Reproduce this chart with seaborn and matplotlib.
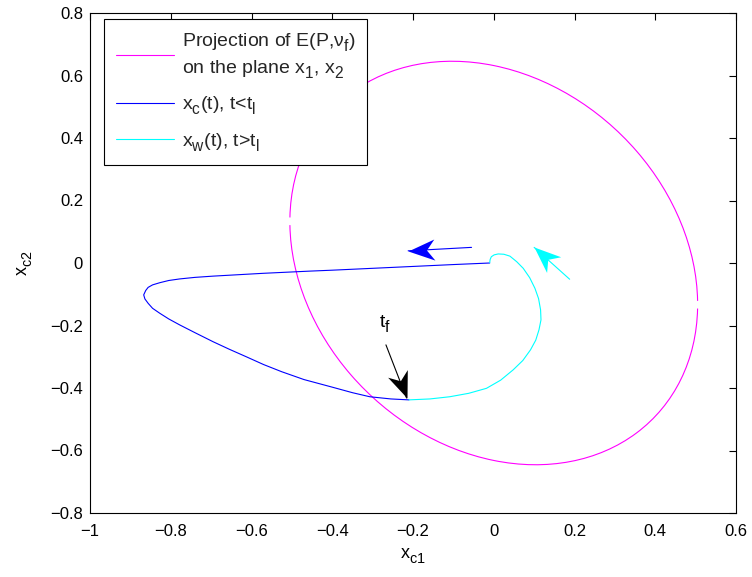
import numpy as np
import pandas as pd
import matplotlib
matplotlib.use("Agg")
import matplotlib.pyplot as plt
import seaborn as sns
from matplotlib.patches import Arc
from matplotlib.path import Path
from matplotlib.markers import MarkerStyle
from matplotlib.transforms import Affine2D

try:  # MATLAB-like subscripts: larger and lower than mathtext defaults
    import matplotlib._mathtext as _mt
    _mt.SHRINK_FACTOR = 0.8
    _mt.FontConstantsBase.sub1 = 0.5
    _mt.FontConstantsBase.sub2 = 0.65
except Exception:
    pass

# ---------------- data ----------------
# trajectory x_c(t), t < t_l  (blue)
blue_x = [-0.010, -0.100, -0.200, -0.300, -0.400, -0.456, -0.571, -0.695, -0.740,
          -0.778, -0.805, -0.827, -0.845, -0.856, -0.862, -0.867, -0.864, -0.856,
          -0.845, -0.827, -0.805, -0.778, -0.740, -0.695, -0.655, -0.613, -0.570,
          -0.525, -0.470, -0.398, -0.350, -0.307, -0.255, -0.210]
blue_y = [0.000, -0.005, -0.011, -0.017, -0.023, -0.026, -0.033, -0.042, -0.046,
          -0.051, -0.056, -0.063, -0.070, -0.078, -0.088, -0.102, -0.115, -0.129,
          -0.145, -0.161, -0.179, -0.198, -0.223, -0.252, -0.276, -0.300, -0.325,
          -0.348, -0.373, -0.398, -0.415, -0.428, -0.435, -0.438]
# trajectory x_w(t), t > t_l  (cyan)
cyan_x = [-0.210, -0.158, -0.109, -0.062, -0.018, 0.017, 0.048, 0.072, 0.091, 0.104,
          0.112, 0.117, 0.116, 0.111, 0.102, 0.089, 0.073, 0.057, 0.040, 0.025,
          0.011, 0.001, -0.006, -0.009, -0.010]
cyan_y = [-0.438, -0.435, -0.428, -0.417, -0.401, -0.375, -0.342, -0.312, -0.278, -0.247,
          -0.214, -0.182, -0.150, -0.114, -0.081, -0.047, -0.017, 0.004, 0.022, 0.028,
          0.029, 0.026, 0.020, 0.011, 0.001]

# ellipse E(P, nu_f) projection: center, full axes, rotation (deg), drawn arcs (deg)
ell_center = (0.0, 0.0)
ell_width = 1.328
ell_height = 0.961
ell_angle = 109.8
ell_arcs = [(56.7, 234.1), (236.7, 414.1)]

# arrows: (tail x, tail y, tip x, tip y)
arrow_blue = (-0.055, 0.050, -0.212, 0.039)
arrow_cyan = (0.188, -0.052, 0.100, 0.050)
arrow_black = (-0.267, -0.262, -0.216, -0.432)
tf_label_pos = (-0.27, -0.195)

legend_labels = ["Projection of E(P,ν$_f$)\non the plane x$_1$, x$_2$",
                 "x$_c$(t), t<t$_l$",
                 "x$_w$(t), t>t$_l$"]
xticks = [-1, -0.8, -0.6, -0.4, -0.2, 0, 0.2, 0.4, 0.6]
yticks = [-0.8, -0.6, -0.4, -0.2, 0, 0.2, 0.4, 0.6, 0.8]

# ---------------- style ----------------
sns.set_theme(style="white")
plt.rcParams["font.family"] = ["Liberation Sans", "DejaVu Sans"]
plt.rcParams["mathtext.fontset"] = "custom"
plt.rcParams["mathtext.rm"] = "Liberation Sans"
plt.rcParams["mathtext.it"] = "Liberation Sans"
plt.rcParams["mathtext.default"] = "regular"

FS = 12
LFS = 14
MAG, BLUE, CYAN = "#ff00ff", "#0000ff", "#00ffff"

fig = plt.figure(figsize=(7.52, 5.77), dpi=100)
ax = fig.add_axes([90 / 752, 1 - 513 / 577, 646 / 752, 500 / 577])
ax.set_xlim(-1, 0.6)
ax.set_ylim(-0.8, 0.8)

# ellipse arcs
for t1, t2 in ell_arcs:
    ax.add_patch(Arc(ell_center, ell_width, ell_height, angle=ell_angle,
                     theta1=t1, theta2=t2, color=MAG, lw=0.8))
ax.plot([], [], color=MAG, lw=0.8, label=legend_labels[0])

df_b = pd.DataFrame({"x": blue_x, "y": blue_y})
df_c = pd.DataFrame({"x": cyan_x, "y": cyan_y})
sns.lineplot(data=df_b, x="x", y="y", sort=False, estimator=None, color=BLUE,
             lw=0.8, ax=ax, label=legend_labels[1])
sns.lineplot(data=df_c, x="x", y="y", sort=False, estimator=None, color=CYAN,
             lw=0.8, ax=ax, label=legend_labels[2])

# MATLAB-style "vback2" arrow head
head_path = Path([(0, 0), (-1, 0.40), (-0.70, 0), (-1, -0.40), (0, 0)],
                 [Path.MOVETO, Path.LINETO, Path.LINETO, Path.LINETO, Path.CLOSEPOLY])

def arrow(a, color):
    ax.plot([a[0], a[2]], [a[1], a[3]], color=color, lw=0.8)
    p0 = ax.transData.transform((a[0], a[1]))
    p1 = ax.transData.transform((a[2], a[3]))
    ang = np.degrees(np.arctan2(p1[1] - p0[1], p1[0] - p0[0]))
    m = MarkerStyle(head_path, transform=Affine2D().rotate_deg(ang))
    ax.plot([a[2]], [a[3]], marker=m, markersize=38, color=color,
            markeredgewidth=0, linestyle="none")

arrow(arrow_blue, BLUE)
arrow(arrow_cyan, CYAN)
arrow(arrow_black, "black")
ax.text(tf_label_pos[0], tf_label_pos[1], "t$_f$", fontsize=LFS, ha="center",
        va="center", color="black")

ax.set_xticks(xticks)
ax.set_yticks(yticks)
ax.set_xticklabels([f"{v:g}".replace("-", "\u2212") for v in xticks])
ax.set_yticklabels([f"{v:g}".replace("-", "\u2212") for v in yticks])
ax.tick_params(direction="in", length=5, width=0.8, top=True, right=True,
               labelsize=FS, colors="black")
ax.tick_params(axis="x", pad=8)
ax.tick_params(axis="y", pad=5)
for s in ax.spines.values():
    s.set_color("black")
    s.set_linewidth(0.8)
ax.set_xlabel("x$_{c1}$", fontsize=LFS - 1, color="black", labelpad=5)
ax.set_ylabel("x$_{c2}$", fontsize=LFS - 1, color="black", labelpad=12)

leg = ax.legend(loc="upper left", bbox_to_anchor=(104 / 752, 1 - 19 / 577),
                bbox_transform=fig.transFigure, fontsize=LFS, frameon=True,
                fancybox=False, edgecolor="black", framealpha=1,
                handlelength=3.0, borderpad=0.6, labelspacing=0.75,
                handletextpad=0.4, borderaxespad=0)
for t in leg.get_texts():
    t.set_linespacing(1.35)
leg.get_frame().set_linewidth(0.8)

fig.savefig("out.png", dpi=100, facecolor="white")
